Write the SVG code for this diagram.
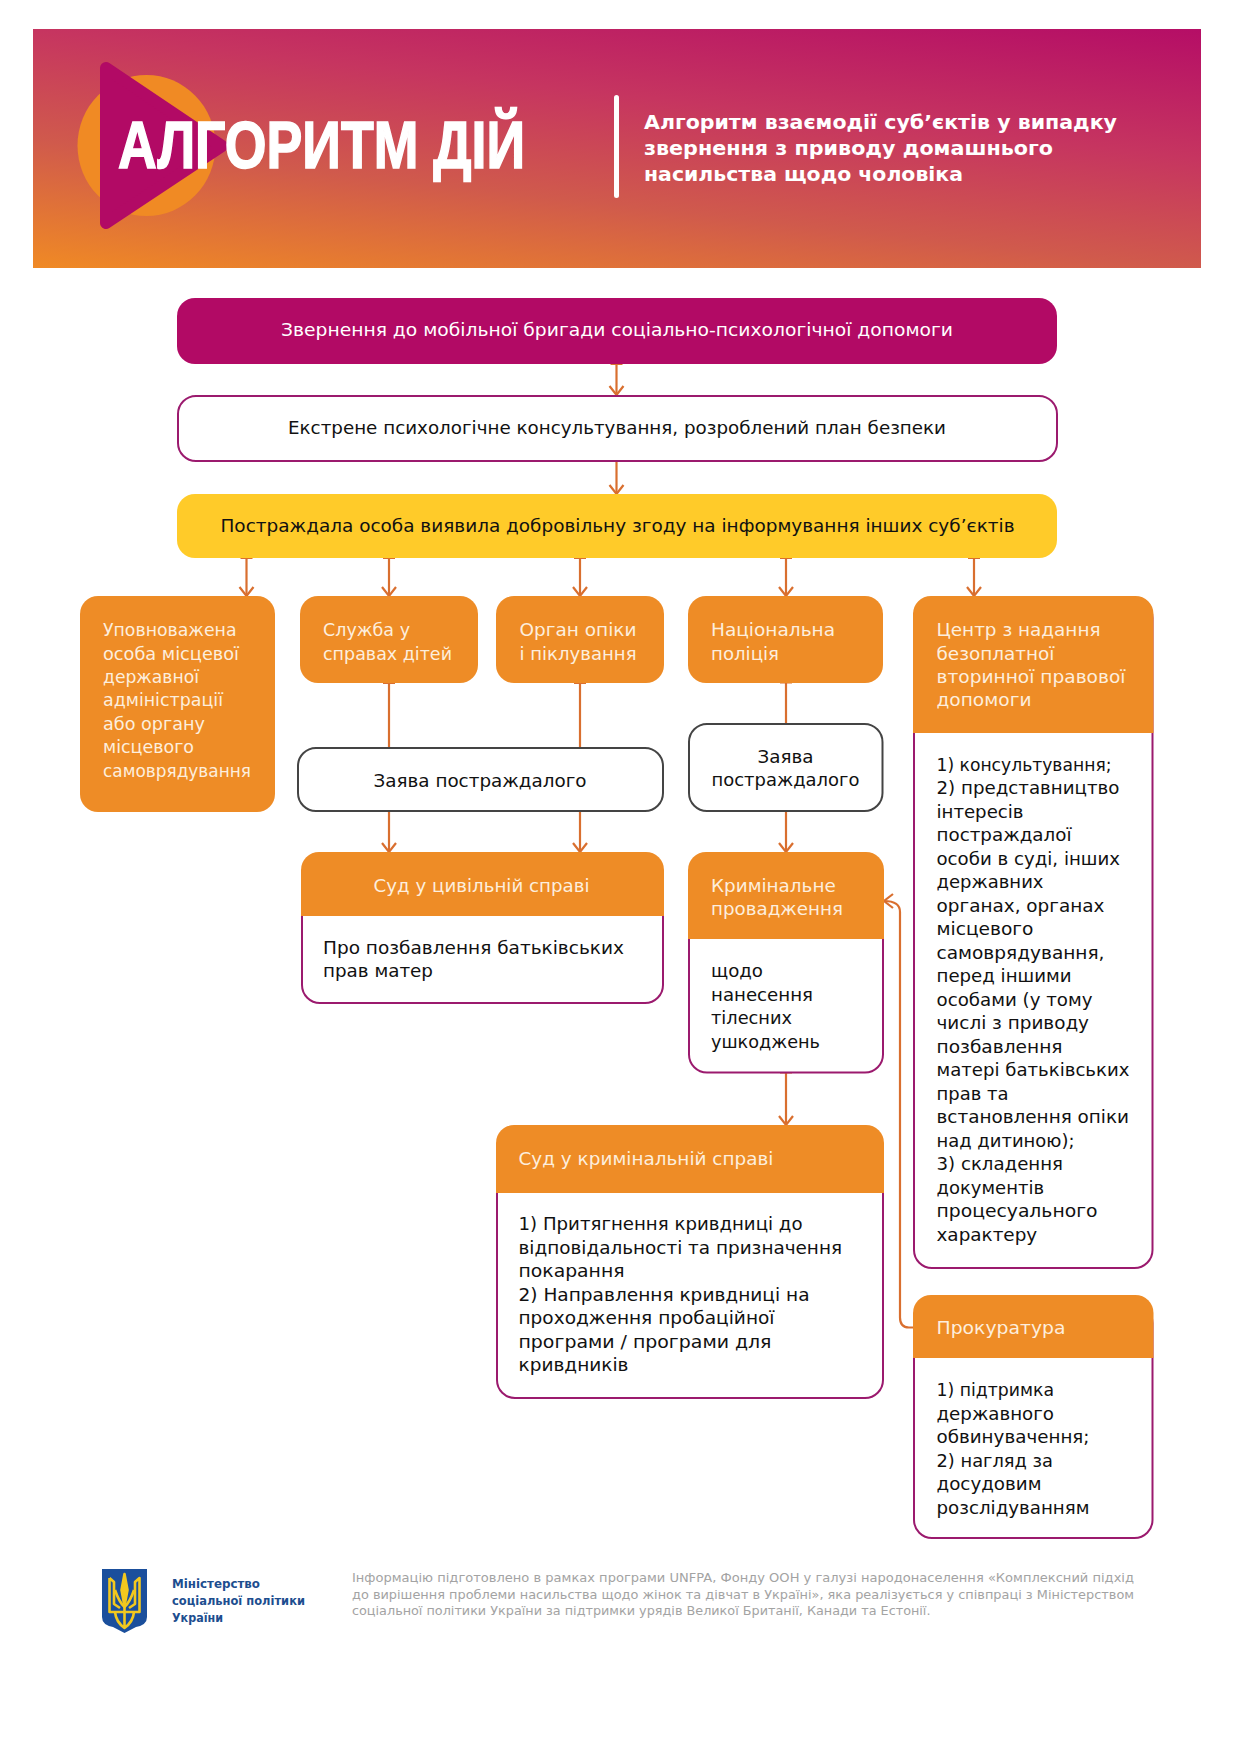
<svg xmlns="http://www.w3.org/2000/svg" width="1240" height="1755" viewBox="0 0 1240 1755">
<style>
text{font-family:"DejaVu Sans","Noto Sans",sans-serif}
.t{font-size:17.3px;fill:#111}
.c{text-anchor:middle}
.o{font-size:17.3px;fill:#fdeedd}
.w{font-size:17.3px;fill:#fff}
.org{fill:#ee8c26}
.body{fill:#fff;stroke:#9b1a6e;stroke-width:2}
.plain{fill:#fff;stroke:#444;stroke-width:2}
.conn{fill:none;stroke:#d96f2f;stroke-width:2.2;marker-end:url(#arr)}
.tick{marker-start:url(#tk)}
.sub{font-weight:700;font-size:20px;fill:#fff}
.min{font-weight:700;font-size:12.5px;fill:#1d4e8f}
.foot{font-size:12.5px;fill:#a3a3a3}
</style>
<defs>
<linearGradient id="bg" gradientUnits="userSpaceOnUse" x1="33" y1="269" x2="73" y2="-94">
<stop offset="0" stop-color="#f08a24"/><stop offset="0.35" stop-color="#d05a4c"/><stop offset="0.65" stop-color="#c63560"/><stop offset="1" stop-color="#b50e66"/>
</linearGradient>
<marker id="arr" markerUnits="userSpaceOnUse" markerWidth="20" markerHeight="20" refX="15" refY="8" orient="auto" overflow="visible">
<path d="M6,1 L15,8 L6,15" fill="none" stroke="#d96f2f" stroke-width="2.2"/>
</marker>
<marker id="tk" markerUnits="userSpaceOnUse" markerWidth="14" markerHeight="14" refX="1" refY="7" orient="auto" overflow="visible">
<path d="M1,1 V13" fill="none" stroke="#d96f2f" stroke-width="2"/>
</marker>
</defs>

<g id="banner">
<rect x="33" y="29" width="1168" height="239" fill="url(#bg)"/>
<ellipse cx="146.500" cy="145.500" rx="69" ry="70.500" fill="#f08a24"/>
<polygon points="106,68 222,146 106,223" fill="#b20a65" stroke="#b20a65" stroke-width="12" stroke-linejoin="round"/>
<text x="118" y="167.500" font-size="67" font-weight="700" fill="#fff" stroke="#fff" stroke-width="1.600" style="font-family:'Liberation Sans Narrow','Liberation Sans',sans-serif" textLength="407" lengthAdjust="spacingAndGlyphs">АЛГОРИТМ ДІЙ</text>
<rect x="614" y="95" width="5" height="103" rx="2.500" fill="#fff"/>
<text class="sub" x="644" y="129" textLength="473" lengthAdjust="spacingAndGlyphs">Алгоритм взаємодії суб’єктів у випадку</text>
<text class="sub" x="644" y="155" textLength="409" lengthAdjust="spacingAndGlyphs">звернення з приводу домашнього</text>
<text class="sub" x="644" y="181" textLength="319" lengthAdjust="spacingAndGlyphs">насильства щодо чоловіка</text>
</g>

<g id="connectors">
<path class="conn tick" d="M616.500,364V395"/>
<path class="conn tick" d="M616.500,461V494"/>
<path class="conn tick" d="M246.500,558V596"/>
<path class="conn tick" d="M389,558V596"/>
<path class="conn tick" d="M580,558V596"/>
<path class="conn tick" d="M786,558V596"/>
<path class="conn tick" d="M974,558V596"/>
<path class="conn tick" style="marker-end:none" d="M389,683V748"/>
<path class="conn tick" style="marker-end:none" d="M580,683V748"/>
<path class="conn" d="M389,811V852"/>
<path class="conn" d="M580,811V852"/>
<path class="conn tick" style="marker-end:none" d="M786,682.500V723.600"/>
<path class="conn" d="M786,811V852"/>
<path class="conn tick" d="M786,1072.500V1125"/>
<path class="conn" d="M913,1327.500H909Q900,1327.500 900,1317.500V912Q900,901 884,901"/>
</g>

<g id="n1">
<rect x="177" y="298" width="880" height="66" rx="18" fill="#b20a65"/>
<text class="w c" x="617" y="336" textLength="672" lengthAdjust="spacingAndGlyphs">Звернення до мобільної бригади соціально-психологічної допомоги</text>
</g>
<g id="n2">
<rect x="178" y="396" width="879" height="65" rx="18" fill="#fff" stroke="#9b1a6e" stroke-width="2"/>
<text class="t c" x="617" y="434" textLength="658" lengthAdjust="spacingAndGlyphs">Екстрене психологічне консультування, розроблений план безпеки</text>
</g>
<g id="n3">
<rect x="177" y="494" width="880" height="64" rx="18" fill="#ffcb29"/>
<text class="t c" x="617.500" y="532" textLength="794" lengthAdjust="spacingAndGlyphs">Постраждала особа виявила добровільну згоду на інформування інших суб’єктів</text>
</g>

<g id="n4">
<rect class="org" x="80" y="596" width="195" height="216" rx="18"/>
<text class="o" x="103" y="636" textLength="133.500" lengthAdjust="spacingAndGlyphs">Уповноважена</text>
<text class="o" x="103" y="660" textLength="136" lengthAdjust="spacingAndGlyphs">особа місцевої</text>
<text class="o" x="103" y="683" textLength="96" lengthAdjust="spacingAndGlyphs">державної</text>
<text class="o" x="103" y="706" textLength="120" lengthAdjust="spacingAndGlyphs">адміністрації</text>
<text class="o" x="103" y="730" textLength="102" lengthAdjust="spacingAndGlyphs">або органу</text>
<text class="o" x="103" y="753" textLength="91" lengthAdjust="spacingAndGlyphs">місцевого</text>
<text class="o" x="103" y="777" textLength="148" lengthAdjust="spacingAndGlyphs">самоврядування</text>
</g>
<g id="n5">
<rect class="org" x="300" y="596" width="178" height="87" rx="18"/>
<text class="o" x="323" y="636" textLength="87" lengthAdjust="spacingAndGlyphs">Служба у</text>
<text class="o" x="323" y="660" textLength="129" lengthAdjust="spacingAndGlyphs">справах дітей</text>
</g>
<g id="n6">
<rect class="org" x="496" y="596" width="168" height="87" rx="18"/>
<text class="o" x="519.500" y="636" textLength="117" lengthAdjust="spacingAndGlyphs">Орган опіки</text>
<text class="o" x="519.500" y="660" textLength="117" lengthAdjust="spacingAndGlyphs">і піклування</text>
</g>
<g id="n7">
<rect class="org" x="688" y="596" width="195" height="87" rx="18"/>
<text class="o" x="711" y="636" textLength="124" lengthAdjust="spacingAndGlyphs">Національна</text>
<text class="o" x="711" y="660" textLength="68" lengthAdjust="spacingAndGlyphs">поліція</text>
</g>
<g id="n8">
<rect class="body" x="914" y="600" width="238.500" height="668" rx="18"/>
<path class="org" d="M913,733V614a18,18 0 0 1 18,-18H1135.500a18,18 0 0 1 18,18V733Z"/>
<text class="o" x="936.500" y="636" textLength="164" lengthAdjust="spacingAndGlyphs">Центр з надання</text>
<text class="o" x="936.500" y="660" textLength="118" lengthAdjust="spacingAndGlyphs">безоплатної</text>
<text class="o" x="936.500" y="683" textLength="189" lengthAdjust="spacingAndGlyphs">вторинної правової</text>
<text class="o" x="936.500" y="706" textLength="95" lengthAdjust="spacingAndGlyphs">допомоги</text>
<text class="t" x="936.500" y="770.500" textLength="175" lengthAdjust="spacingAndGlyphs">1) консультування;</text>
<text class="t" x="936.500" y="794" textLength="183" lengthAdjust="spacingAndGlyphs">2) представництво</text>
<text class="t" x="936.500" y="817.500" textLength="87" lengthAdjust="spacingAndGlyphs">інтересів</text>
<text class="t" x="936.500" y="841" textLength="135" lengthAdjust="spacingAndGlyphs">постраждалої</text>
<text class="t" x="936.500" y="864.500" textLength="183.500" lengthAdjust="spacingAndGlyphs">особи в суді, інших</text>
<text class="t" x="936.500" y="888" textLength="107" lengthAdjust="spacingAndGlyphs">державних</text>
<text class="t" x="936.500" y="911.500" textLength="168" lengthAdjust="spacingAndGlyphs">органах, органах</text>
<text class="t" x="936.500" y="935" textLength="97" lengthAdjust="spacingAndGlyphs">місцевого</text>
<text class="t" x="936.500" y="958.500" textLength="168" lengthAdjust="spacingAndGlyphs">самоврядування,</text>
<text class="t" x="936.500" y="982" textLength="135" lengthAdjust="spacingAndGlyphs">перед іншими</text>
<text class="t" x="936.500" y="1005.500" textLength="156" lengthAdjust="spacingAndGlyphs">особами (у тому</text>
<text class="t" x="936.500" y="1029" textLength="152.500" lengthAdjust="spacingAndGlyphs">числі з приводу</text>
<text class="t" x="936.500" y="1052.500" textLength="126" lengthAdjust="spacingAndGlyphs">позбавлення</text>
<text class="t" x="936.500" y="1076" textLength="193" lengthAdjust="spacingAndGlyphs">матері батьківських</text>
<text class="t" x="936.500" y="1099.500" textLength="72" lengthAdjust="spacingAndGlyphs">прав та</text>
<text class="t" x="936.500" y="1123" textLength="192.500" lengthAdjust="spacingAndGlyphs">встановлення опіки</text>
<text class="t" x="936.500" y="1146.500" textLength="138" lengthAdjust="spacingAndGlyphs">над дитиною);</text>
<text class="t" x="936.500" y="1170" textLength="126.500" lengthAdjust="spacingAndGlyphs">3) складення</text>
<text class="t" x="936.500" y="1193.500" textLength="107.500" lengthAdjust="spacingAndGlyphs">документів</text>
<text class="t" x="936.500" y="1217" textLength="161" lengthAdjust="spacingAndGlyphs">процесуального</text>
<text class="t" x="936.500" y="1240.500" textLength="100.700" lengthAdjust="spacingAndGlyphs">характеру</text>
</g>
<g id="n9">
<rect class="plain" x="298" y="748" width="365" height="63" rx="18"/>
<text class="t c" x="480" y="787" textLength="213" lengthAdjust="spacingAndGlyphs">Заява постраждалого</text>
</g>
<g id="n10">
<rect class="plain" x="689" y="724" width="193.500" height="87" rx="18"/>
<text class="t c" x="785.500" y="763" textLength="56" lengthAdjust="spacingAndGlyphs">Заява</text>
<text class="t c" x="785.500" y="786" textLength="148" lengthAdjust="spacingAndGlyphs">постраждалого</text>
</g>
<g id="n11">
<rect class="body" x="302" y="860" width="361" height="143" rx="18"/>
<path class="org" d="M301,916V870a18,18 0 0 1 18,-18H646a18,18 0 0 1 18,18V916Z"/>
<text class="o c" x="481.500" y="892" textLength="216" lengthAdjust="spacingAndGlyphs">Суд у цивільній справі</text>
<text class="t" x="323" y="954" textLength="301" lengthAdjust="spacingAndGlyphs">Про позбавлення батьківських</text>
<text class="t" x="323" y="977" textLength="110" lengthAdjust="spacingAndGlyphs">прав матер</text>
</g>
<g id="n12">
<rect class="body" x="689" y="860" width="194" height="212.500" rx="18"/>
<path class="org" d="M688,939V870a18,18 0 0 1 18,-18H866a18,18 0 0 1 18,18V939Z"/>
<text class="o" x="711" y="892" textLength="124.700" lengthAdjust="spacingAndGlyphs">Кримінальне</text>
<text class="o" x="711" y="915" textLength="132" lengthAdjust="spacingAndGlyphs">провадження</text>
<text class="t" x="711" y="977" textLength="52" lengthAdjust="spacingAndGlyphs">щодо</text>
<text class="t" x="711" y="1000.500" textLength="102" lengthAdjust="spacingAndGlyphs">нанесення</text>
<text class="t" x="711" y="1024" textLength="81" lengthAdjust="spacingAndGlyphs">тілесних</text>
<text class="t" x="711" y="1047.500" textLength="109" lengthAdjust="spacingAndGlyphs">ушкоджень</text>
</g>
<g id="n13">
<rect class="body" x="497" y="1135" width="386" height="263" rx="18"/>
<path class="org" d="M496,1193V1143a18,18 0 0 1 18,-18H866a18,18 0 0 1 18,18V1193Z"/>
<text class="o" x="518.500" y="1165" textLength="255" lengthAdjust="spacingAndGlyphs">Суд у кримінальній справі</text>
<text class="t" x="518.500" y="1230" textLength="284" lengthAdjust="spacingAndGlyphs">1) Притягнення кривдниці до</text>
<text class="t" x="518.500" y="1253.500" textLength="323.500" lengthAdjust="spacingAndGlyphs">відповідальності та призначення</text>
<text class="t" x="518.500" y="1277" textLength="106" lengthAdjust="spacingAndGlyphs">покарання</text>
<text class="t" x="518.500" y="1300.500" textLength="291" lengthAdjust="spacingAndGlyphs">2) Направлення кривдниці на</text>
<text class="t" x="518.500" y="1324" textLength="256" lengthAdjust="spacingAndGlyphs">проходження пробаційної</text>
<text class="t" x="518.500" y="1347.500" textLength="253" lengthAdjust="spacingAndGlyphs">програми / програми для</text>
<text class="t" x="518.500" y="1371" textLength="110" lengthAdjust="spacingAndGlyphs">кривдників</text>
</g>
<g id="n14">
<rect class="body" x="914" y="1305" width="238.500" height="233" rx="18"/>
<path class="org" d="M913,1358V1313a18,18 0 0 1 18,-18H1135.500a18,18 0 0 1 18,18V1358Z"/>
<text class="o" x="936.500" y="1334" textLength="129" lengthAdjust="spacingAndGlyphs">Прокуратура</text>
<text class="t" x="936.500" y="1396" textLength="117.500" lengthAdjust="spacingAndGlyphs">1) підтримка</text>
<text class="t" x="936.500" y="1419.500" textLength="117.500" lengthAdjust="spacingAndGlyphs">державного</text>
<text class="t" x="936.500" y="1443" textLength="153" lengthAdjust="spacingAndGlyphs">обвинувачення;</text>
<text class="t" x="936.500" y="1466.500" textLength="116.500" lengthAdjust="spacingAndGlyphs">2) нагляд за</text>
<text class="t" x="936.500" y="1490" textLength="105" lengthAdjust="spacingAndGlyphs">досудовим</text>
<text class="t" x="936.500" y="1513.500" textLength="153" lengthAdjust="spacingAndGlyphs">розслідуванням</text>
</g>

<g id="footer">
<path d="M102,1569H147V1617Q147,1625 136,1627L124.500,1633L113,1627Q102,1625 102,1617Z" fill="#1b4f9c"/>
<g fill="none" stroke="#f2c81e" stroke-width="2.600" stroke-linejoin="round">
<path d="M124.500,1574L127.500,1590L124.500,1606L121.500,1590Z" fill="#f2c81e"/>
<path d="M109.500,1578L114,1582V1604L120,1608M109.500,1578V1612H139.500V1578L135,1582V1604L129,1608"/>
<path d="M115,1590Q119,1602 124.500,1607Q130,1602 134,1590"/>
<path d="M124.500,1606V1628M115,1612Q116,1622 124.500,1628Q133,1622 134,1612"/>
</g>
<text class="min" x="172" y="1588" textLength="88" lengthAdjust="spacingAndGlyphs">Міністерство</text>
<text class="min" x="172" y="1605" textLength="133" lengthAdjust="spacingAndGlyphs">соціальної політики</text>
<text class="min" x="172" y="1622" textLength="51" lengthAdjust="spacingAndGlyphs">України</text>
<text class="foot" x="352" y="1582" textLength="782" lengthAdjust="spacingAndGlyphs">Інформацію підготовлено в рамках програми UNFPA, Фонду ООН у галузі народонаселення «Комплексний підхід</text>
<text class="foot" x="352" y="1598.500" textLength="782" lengthAdjust="spacingAndGlyphs">до вирішення проблеми насильства щодо жінок та дівчат в Україні», яка реалізується у співпраці з Міністерством</text>
<text class="foot" x="352" y="1615" textLength="578.500" lengthAdjust="spacingAndGlyphs">соціальної політики України за підтримки урядів Великої Британії, Канади та Естонії.</text>
</g>
</svg>
